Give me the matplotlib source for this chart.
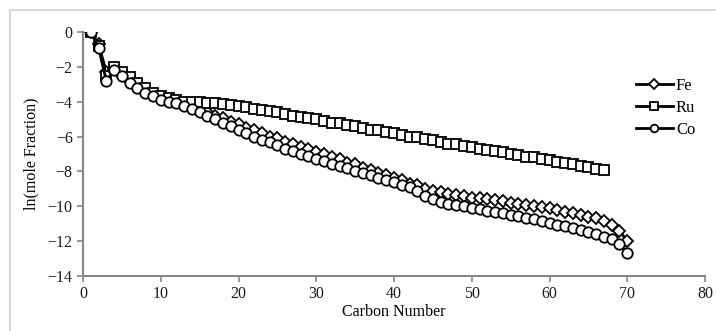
import matplotlib
matplotlib.use('Agg')
import matplotlib.pyplot as plt
from matplotlib.patches import Rectangle

# carbon numbers
carbon_fe = list(range(1, 71))
carbon_ru = list(range(1, 68))
carbon_co = list(range(1, 71))

# ln(mole fraction)
fe = [0, -0.7, -2.3, -2.1, -2.4, -2.8, -3.1, -3.3, -3.6, -3.8,
      -3.9, -4.0, -4.15, -4.3, -4.45, -4.6, -4.8, -4.95, -5.15, -5.3,
      -5.5, -5.65, -5.8, -6.0, -6.1, -6.3, -6.4, -6.6, -6.7, -6.9,
      -7.0, -7.2, -7.3, -7.5, -7.6, -7.8, -7.9, -8.1, -8.2, -8.4,
      -8.5, -8.7, -8.8, -9.0, -9.1, -9.2, -9.3, -9.35, -9.4, -9.5,
      -9.55, -9.6, -9.65, -9.7, -9.8, -9.85, -9.9, -10.0, -10.05, -10.1,
      -10.2, -10.3, -10.4, -10.5, -10.6, -10.7, -10.85, -11.05, -11.4, -12.0]

ru = [0, -0.8, -2.5, -2.0, -2.3, -2.6, -2.9, -3.2, -3.5, -3.7,
      -3.8, -3.9, -4.0, -4.0, -4.0, -4.05, -4.1, -4.15, -4.2, -4.25,
      -4.3, -4.4, -4.45, -4.55, -4.6, -4.7, -4.8, -4.85, -4.95, -5.0,
      -5.1, -5.2, -5.25, -5.35, -5.4, -5.5, -5.6, -5.65, -5.75, -5.8,
      -5.9, -6.0, -6.05, -6.15, -6.2, -6.3, -6.4, -6.45, -6.55, -6.6,
      -6.7, -6.75, -6.85, -6.9, -7.0, -7.05, -7.15, -7.2, -7.3, -7.35,
      -7.45, -7.5, -7.6, -7.7, -7.75, -7.85, -7.9]

co = [0, -0.9, -2.8, -2.2, -2.5, -2.9, -3.2, -3.5, -3.7, -3.9,
      -4.0, -4.1, -4.25, -4.4, -4.6, -4.8, -5.0, -5.2, -5.4, -5.6,
      -5.8, -6.0, -6.2, -6.3, -6.5, -6.7, -6.8, -7.0, -7.1, -7.3,
      -7.4, -7.6, -7.7, -7.8, -8.0, -8.1, -8.2, -8.4, -8.5, -8.6,
      -8.75, -8.9, -9.1, -9.4, -9.6, -9.75, -9.85, -9.95, -10.0, -10.1,
      -10.15, -10.25, -10.3, -10.4, -10.5, -10.55, -10.65, -10.75, -10.85, -10.95,
      -11.05, -11.15, -11.25, -11.35, -11.5, -11.6, -11.75, -11.9, -12.15, -12.7]

plt.rcParams['font.family'] = ['Liberation Serif', 'DejaVu Serif']

fig = plt.figure(figsize=(7.16, 3.31), dpi=100)
ax = fig.add_axes([83/716, 55/331, 622/716, 244/331])

# outer chart border (only top and left visible)
fig.add_artist(Rectangle((10/716, -0.1), 1.0, (321/331) + 0.1, transform=fig.transFigure,
                         fill=False, edgecolor='#d0d0d0', linewidth=1.2))

ax.plot(carbon_fe, fe, color='black', lw=2, marker='D', ms=6,
        mfc='white', mec='black', mew=1.3, label='Fe')
ax.plot(carbon_ru, ru, color='black', lw=2, marker='s', ms=7,
        mfc='white', mec='black', mew=1.3, label='Ru')
ax.plot(carbon_co, co, color='black', lw=2, marker='o', ms=7.5,
        mfc='white', mec='black', mew=1.3, label='Co')

ax.set_xlim(0, 80)
ax.set_ylim(-14, 0)
ax.set_xticks(range(0, 81, 10))
ax.set_yticks(range(-14, 1, 2))

for s in ['top', 'right']:
    ax.spines[s].set_visible(False)
for s in ['left', 'bottom']:
    ax.spines[s].set_color('#868686')
    ax.spines[s].set_linewidth(1.5)
ax.tick_params(direction='out', length=4, width=1.2, color='#868686',
               labelsize=11.5, labelcolor='#1a1a1a')

ax.set_xlabel('Carbon Number', fontsize=11.5, labelpad=1)
ax.set_ylabel('ln(mole Fraction)', fontsize=11.5, labelpad=6)

leg = ax.legend(loc='center left', bbox_to_anchor=(636/716, 223/331),
                bbox_transform=fig.transFigure, frameon=False, fontsize=12,
                handlelength=2.2, handletextpad=0.2, labelspacing=0.35,
                borderpad=0, borderaxespad=0)
for h in leg.legend_handles:
    h.set_markersize(5.5)

fig.savefig('out.png', dpi=100)
